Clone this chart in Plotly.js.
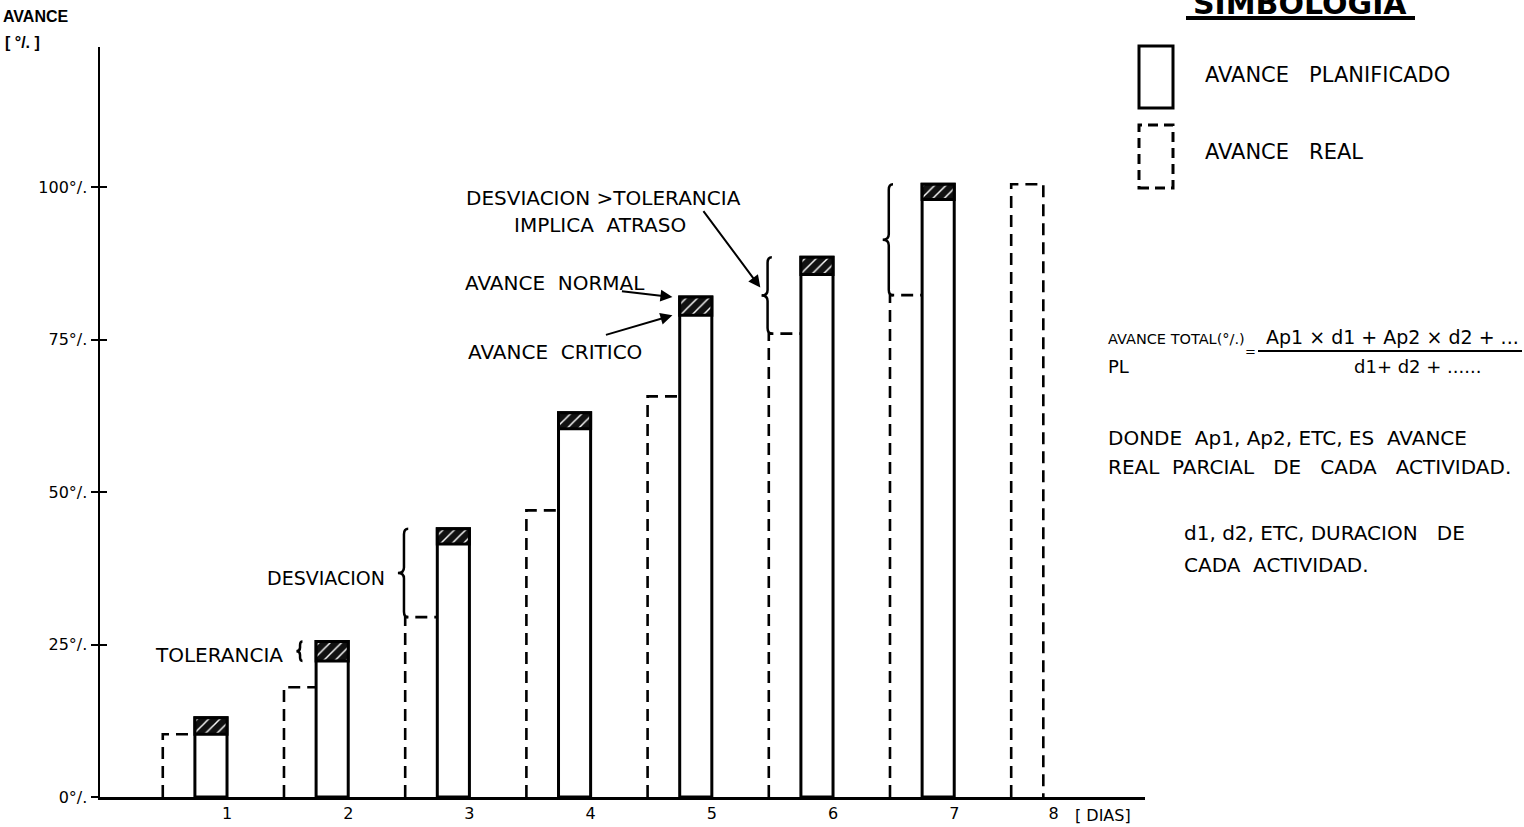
<!DOCTYPE html>
<html>
<head>
<meta charset="utf-8">
<script src="https://cdn.plot.ly/plotly-3.0.1.min.js"></script>
<style>html,body{margin:0;padding:0;background:#fff;}#chart{width:1524px;height:827px;}</style>
</head>
<body>
<div id="chart"></div>
<script>
// ---------- data ----------
const plannedDays = [1, 2, 3, 4, 5, 6, 7];
const plannedNormal = [13, 25.5, 44, 63, 82, 88.5, 100.5];    // AVANCE NORMAL (top of planned bar)
const plannedCritical = [10.3, 22.3, 41.5, 60.4, 79, 85.7, 98]; // AVANCE CRITICO (bottom of hatched band)
const realDays = [1, 2, 3, 4, 5, 6, 7, 8];
const realValues = [10.3, 18, 29.5, 47, 65.7, 76, 82.3, 100.5]; // AVANCE REAL
const deviationDays = [3, 6, 7];   // days with a "DESVIACION" brace
const toleranceDay = 2;            // day with the "TOLERANCIA" brace
const xTickPos = [1, 2, 3, 4, 5, 6, 7, 7.82];
const xTickLabels = ['1', '2', '3', '4', '5', '6', '7', '8'];
const yTickVals = [0, 25, 50, 75, 100];
const yTickLabels = ['0°/.', '25°/.', '50°/.', '75°/.', '100°/.'];

// ---------- geometry / style ----------
const BW = 0.265;               // bar width (days)
const FONT = 'DejaVu Sans, Liberation Sans, sans-serif';
const L = 100, R = 1145, T = 47, B = 797;   // plot area in pixels
const W = R - L, H = B - T;
const px = v => (v - L) / W;          // pixel -> paper x
const py = v => (B - v) / H;          // pixel -> paper y

// planned bars
const planBase = {
  type: 'bar', x: plannedDays, y: plannedNormal, width: BW, offset: -BW,
  marker: {color: 'white', line: {color: 'black', width: 3}},
  hoverinfo: 'skip', showlegend: false
};
const planCap = {
  type: 'bar', x: plannedDays, base: plannedCritical,
  y: plannedNormal.map((v, i) => v - plannedCritical[i]),
  width: BW, offset: -BW,
  marker: {
    color: '#111',
    pattern: {shape: '/', fgcolor: 'white', bgcolor: '#111', size: 8, solidity: 0.18, fillmode: 'replace'},
    line: {color: 'black', width: 3}
  },
  hoverinfo: 'skip', showlegend: false
};

// real (dashed) bars
const rx = [], ry = [];
realDays.forEach((d, i) => {
  const h = realValues[i];
  const xl = d - 2 * BW, xr = d - BW;
  const hasPlan = plannedDays.indexOf(d) >= 0;
  rx.push(xl, xl, xr); ry.push(0, h, h);
  if (!hasPlan) { rx.push(xr); ry.push(0); }
  rx.push(null); ry.push(null);
});
const realTrace = {
  type: 'scatter', mode: 'lines', x: rx, y: ry,
  line: {color: 'black', width: 2.6, dash: '12px,7px'},
  hoverinfo: 'skip', showlegend: false, cliponaxis: false
};
const dummy2 = {type: 'scatter', mode: 'markers', x: [0], y: [0], yaxis: 'y2',
  marker: {size: 1, opacity: 0}, showlegend: false, hoverinfo: 'skip'};

// curly brace path in data coordinates
function brace(x, y0, y1, w, tip, r) {
  const ym = (y0 + y1) / 2;
  return `M ${x + w},${y1} Q ${x},${y1} ${x},${y1 - r} L ${x},${ym + r} Q ${x},${ym} ${x - tip},${ym} ` +
         `Q ${x},${ym} ${x},${ym - r} L ${x},${y0 + r} Q ${x},${y0} ${x + w},${y0}`;
}
const shapes = [];
deviationDays.forEach(d => {
  const i = d - 1;
  shapes.push({type: 'path', xref: 'x', yref: 'y',
    path: brace(d - 2 * BW - 0.01, realValues[i], plannedNormal[i], 0.035, 0.05, 0.9),
    line: {color: 'black', width: 2.5}});
});
{
  const i = toleranceDay - 1;
  shapes.push({type: 'path', xref: 'x', yref: 'y',
    path: brace(toleranceDay - 1.5 * BW, plannedCritical[i], plannedNormal[i], 0.02, 0.03, 0.6),
    line: {color: 'black', width: 2.5}});
}
// legend symbols, title underline, fraction bar (layout decoration)
shapes.push({type: 'rect', xref: 'paper', yref: 'paper', x0: px(1139), x1: px(1173), y0: py(108), y1: py(46),
  line: {color: 'black', width: 3}, fillcolor: 'rgba(0,0,0,0)'});
shapes.push({type: 'rect', xref: 'paper', yref: 'paper', x0: px(1139), x1: px(1173), y0: py(188), y1: py(125),
  line: {color: 'black', width: 3, dash: '10px,6px'}, fillcolor: 'rgba(0,0,0,0)'});
shapes.push({type: 'line', xref: 'paper', yref: 'paper', x0: px(1186), x1: px(1415), y0: py(18), y1: py(18),
  line: {color: 'black', width: 4}});
shapes.push({type: 'line', xref: 'paper', yref: 'paper', x0: px(1258), x1: px(1522), y0: py(351), y1: py(351),
  line: {color: 'black', width: 2}});

function txt(text, x, y, size, anchor, extra) {
  return Object.assign({text: text, xref: 'paper', yref: 'paper', x: px(x), y: py(y),
    xanchor: anchor || 'left', yanchor: 'middle', showarrow: false,
    font: {family: FONT, size: size, color: 'black'}}, extra || {});
}
const NB = '\u00a0';
const sp = n => NB.repeat(n);
const annotations = [
  txt('<b>AVANCE</b>', 1, 17, 16, 'left', {font: {family: 'Liberation Sans, sans-serif', size: 16, color: 'black'}}),
  txt('<b>[' + sp(1) + '°/.' + sp(1) + ']</b>', 3, 43, 16, 'left', {font: {family: 'Liberation Sans, sans-serif', size: 16, color: 'black'}}),
  txt('TOLERANCIA', 153, 655, 20),
  txt('DESVIACION', 265, 578, 19),
  txt('DESVIACION >TOLERANCIA', 603, 198, 20, 'center'),
  txt('IMPLICA' + sp(2) + 'ATRASO', 600, 225, 20, 'center'),
  txt('AVANCE' + sp(2) + 'NORMAL', 463, 283, 20),
  txt('AVANCE' + sp(2) + 'CRITICO', 466, 352, 20),
  txt('[ DIAS]', 1073, 815, 16),
  txt('<b>SIMBOLOGIA</b>', 1300, 3, 30, 'center'),
  txt('AVANCE' + sp(3) + 'PLANIFICADO', 1203, 75, 21),
  txt('AVANCE' + sp(3) + 'REAL', 1203, 152, 21),
  txt('AVANCE TOTAL(°/.)', 1106, 339, 14.5),
  txt('=', 1250, 352, 13, 'center'),
  txt('Ap1 × d1 + Ap2 × d2 + ...', 1392, 337, 19, 'center'),
  txt('PL', 1106, 366, 18),
  txt('d1+ d2 + ......', 1417, 366, 18, 'center'),
  txt('DONDE' + sp(2) + 'Ap1,' + sp(1) + 'Ap2,' + sp(1) + 'ETC,' + sp(1) + 'ES' + sp(2) + 'AVANCE', 1106, 438, 20),
  txt('REAL' + sp(2) + 'PARCIAL' + sp(3) + 'DE' + sp(3) + 'CADA' + sp(3) + 'ACTIVIDAD.', 1106, 467, 20),
  txt('d1,' + sp(1) + 'd2,' + sp(1) + 'ETC,' + sp(1) + 'DURACION' + sp(3) + 'DE', 1182, 533, 20),
  txt('CADA' + sp(2) + 'ACTIVIDAD.', 1182, 565, 20)
];
// arrows pointing at the day-5 bar and the day-6 brace (heads from data)
const d5 = 4;
annotations.push({x: 5 - BW - 0.06, y: plannedNormal[d5], xref: 'x', yref: 'y', text: '', showarrow: true,
  axref: 'pixel', ayref: 'pixel', ax: -52, ay: -6, arrowhead: 2, arrowsize: 1.2, arrowwidth: 2, arrowcolor: 'black'});
annotations.push({x: 5 - BW - 0.06, y: plannedCritical[d5], xref: 'x', yref: 'y', text: '', showarrow: true,
  axref: 'pixel', ayref: 'pixel', ax: -68, ay: 20, arrowhead: 2, arrowsize: 1.2, arrowwidth: 2, arrowcolor: 'black'});
annotations.push({x: 6 - 2 * BW - 0.07, y: (plannedNormal[5] + realValues[5]) / 2 + 1.3, xref: 'x', yref: 'y', text: '',
  showarrow: true, axref: 'pixel', ayref: 'pixel', ax: -58, ay: -78, arrowhead: 2, arrowsize: 1.2, arrowwidth: 2, arrowcolor: 'black'});

const layout = {
  width: 1524, height: 827,
  margin: {l: L, r: 1524 - R, t: T, b: 827 - B, pad: 0},
  paper_bgcolor: 'white', plot_bgcolor: 'white',
  barmode: 'overlay', showlegend: false,
  font: {family: FONT, color: 'black'},
  xaxis: {range: [-0.048, 8.574], showline: true, linecolor: 'black', linewidth: 2.5,
    showgrid: false, zeroline: false, ticks: '', tickvals: xTickPos, ticktext: xTickLabels,
    tickfont: {family: FONT, size: 16, color: 'black'}, fixedrange: true},
  yaxis: {range: [0, 123], showline: true, linecolor: 'black', linewidth: 2.5,
    showgrid: false, zeroline: false, ticks: 'outside', ticklen: 7, tickwidth: 2, tickcolor: 'black',
    tickvals: yTickVals, ticktext: yTickLabels, tickfont: {family: FONT, size: 16, color: 'black'}, fixedrange: true},
  yaxis2: {range: [0, 123], overlaying: 'y', side: 'left', anchor: 'x', showline: false, showgrid: false, zeroline: false,
    ticks: 'inside', ticklen: 7, tickwidth: 2, tickcolor: 'black', tickvals: yTickVals, showticklabels: false, fixedrange: true},
  shapes: shapes,
  annotations: annotations
};

Plotly.newPlot('chart', [planBase, planCap, realTrace, dummy2], layout, {displayModeBar: false, staticPlot: true});
</script>
</body>
</html>
